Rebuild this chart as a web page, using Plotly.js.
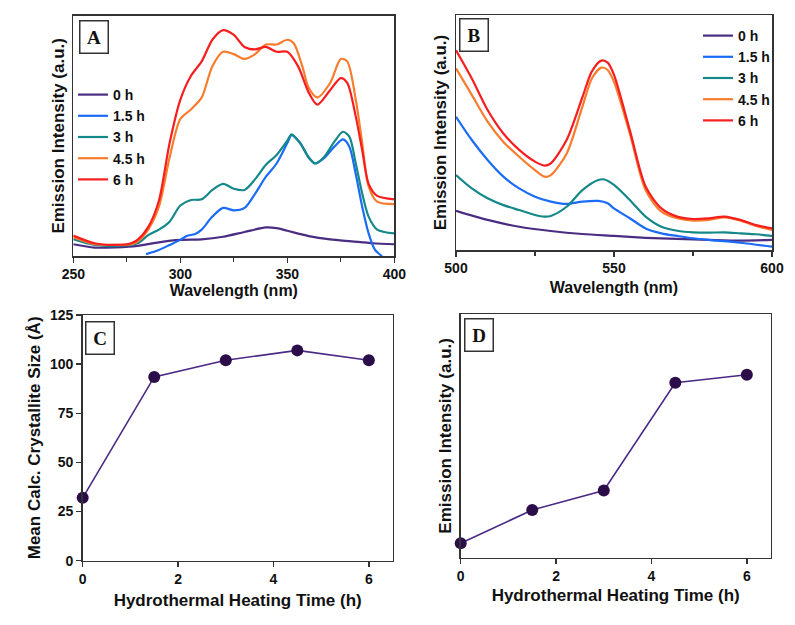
<!DOCTYPE html>
<html>
<head>
<meta charset="utf-8">
<script src="https://cdn.plot.ly/plotly-3.0.1.min.js"></script>
<style>html,body{margin:0;padding:0;background:#fff;}#chart{width:795px;height:625px;}</style>
</head>
<body>
<div id="chart"></div>
<script>
// ---------- DATA ----------
const seriesNames = ['0 h', '1.5 h', '3 h', '4.5 h', '6 h'];

// Panel A: spectra 250-400 nm (arbitrary units)
const A_wl_0h  = [250,260,270,280,290,300,310,320,330,340,345,350,360,370,380,390,400];
const A_int_0h = [4.9,3.5,3.6,4.2,5.7,6.7,6.9,8,10,11.9,11.6,10.5,8.3,6.9,6.1,5.3,4.9];

const A_wl_15h  = [284,290,295,300,303,307,310,315,320,325,330,335,340,345,350,352,356,360,363,367,372,376,379,382,385,388,391,394,396];
const A_int_15h = [0.8,2.5,4.6,6.7,8.3,9.2,11,16.4,20,19,20,26,33,38.5,47,50.3,47,41,38.5,40.6,45.5,48.5,45.5,34,20.5,9.4,2.5,0,-3];

const A_wl_3h  = [250,260,270,280,285,290,295,300,305,310,315,320,325,330,335,340,345,350,352,356,360,363,367,372,376,379,382,385,388,392,400];
const A_int_3h = [7,4.6,4.2,5.3,8.7,11,14.3,21,23.3,23.6,27.5,30,28,27.5,32,38,42,48,50.6,47,41,38.5,41,47.6,51.7,49.7,38.5,26,16.4,11,9.4];

const A_wl_45h  = [250,260,270,277,280,285,290,295,300,305,310,315,320,325,330,335,340,345,350,353,357,360,364,370,375,378,382,385,388,392,400];
const A_int_45h = [7.8,4.9,4.6,4.9,6,11,20.5,41,57,61,66,79,85,84,82,84,88,88,90,88.5,79,70,66,72,82,81,65,47,29,22.6,21.6];

const A_wl_6h  = [250,260,270,277,280,285,290,295,300,305,310,315,320,325,330,335,340,345,350,355,360,364,370,375,378,382,385,388,392,400];
const A_int_6h = [8.5,5.3,4.6,5.3,6.7,12,23,47,65,75,81,90,94,92,87,86,87,85,85,79,68,63,69,74,72,58,44,30,25,23.6];

// Panel B: spectra 500-600 nm (arbitrary units)
const B_wl_0h  = [500,510,520,530,540,550,560,570,580,590,600];
const B_int_0h = [16.7,12.8,9.9,8.1,6.8,6,5.2,4.7,4.3,4,4.3];

const B_wl_15h  = [500,505,510,515,520,525,530,535,540,545,548,550,555,560,565,570,575,580,590,600];
const B_int_15h = [56.7,46.8,38.3,31.2,26.2,22.7,20.6,19.6,20.6,20.9,19.9,17.7,13.5,9.2,7.1,6,5,4.3,3.1,1.4];

const B_wl_3h  = [500,505,510,515,520,525,528,530,535,540,545,547,550,555,560,565,570,575,580,585,590,595,600];
const B_int_3h = [31.9,26.2,22,19.1,17,14.9,14.2,14.5,18.4,25.5,29.8,30,27.7,21.3,14.2,9.9,8.2,7.5,7.4,7.5,7.1,6.7,6];

const B_wl_45h  = [500,505,510,515,520,525,528,530,535,540,543,546,548,550,555,560,565,570,575,580,585,590,595,600];
const B_int_45h = [77.3,66,54.6,46,39.7,34,31.2,31.9,41,61,73,77.6,76.6,71.6,49.6,25.5,16.3,13.5,12.5,12.8,13.9,12.5,10.2,8.5];

const B_wl_6h  = [500,505,510,515,520,525,528,530,535,540,543,546,548,550,555,560,565,570,575,580,585,590,595,600];
const B_int_6h = [85,73,59.6,49.6,42.6,37.6,35.9,36.9,46.8,65,76,80.6,79.7,74.5,51,27,17.7,14.2,13.2,13.5,14.2,12.8,10.6,9.2];

// Panels C & D
const heatingHours    = [0, 1.5, 3, 4.5, 6];
const crystalliteSize = [32, 93.5, 102, 107, 102];
const emissionVsTime  = [5.9, 19.6, 27.6, 71.8, 75.1];

// ---------- STYLE ----------
const palette = ['#4a2d82', '#1a6cf7', '#15888a', '#f97c2c', '#f61e1e'];
const FONT = 'Liberation Sans, Arial, Helvetica, sans-serif';

const A_x = [A_wl_0h, A_wl_15h, A_wl_3h, A_wl_45h, A_wl_6h];
const A_y = [A_int_0h, A_int_15h, A_int_3h, A_int_45h, A_int_6h];
const B_x = [B_wl_0h, B_wl_15h, B_wl_3h, B_wl_45h, B_wl_6h];
const B_y = [B_int_0h, B_int_15h, B_int_3h, B_int_45h, B_int_6h];

const traces = [];
seriesNames.forEach((name, i) => {
  traces.push({
    x: A_x[i], y: A_y[i], name: name, type: 'scatter', mode: 'lines',
    line: {color: palette[i], width: 2.2, shape: 'spline', smoothing: 0.8},
    xaxis: 'x', yaxis: 'y', legend: 'legend', hoverinfo: 'skip'
  });
});
seriesNames.forEach((name, i) => {
  traces.push({
    x: B_x[i], y: B_y[i], name: name, type: 'scatter', mode: 'lines',
    line: {color: palette[i], width: 2.2, shape: 'spline', smoothing: 0.8},
    xaxis: 'x2', yaxis: 'y2', legend: 'legend2', hoverinfo: 'skip'
  });
});
traces.push({
  x: heatingHours, y: crystalliteSize, type: 'scatter', mode: 'lines+markers',
  line: {color: '#4b2a85', width: 1.6},
  marker: {color: '#2b0d4a', size: 12},
  cliponaxis: false, showlegend: false, xaxis: 'x3', yaxis: 'y3'
});
traces.push({
  x: heatingHours, y: emissionVsTime, type: 'scatter', mode: 'lines+markers',
  line: {color: '#4b2a85', width: 1.6},
  marker: {color: '#2b0d4a', size: 12},
  cliponaxis: false, showlegend: false, xaxis: 'x4', yaxis: 'y4'
});

const baseAxis = {
  showline: true, mirror: true, linecolor: '#333', linewidth: 1.5,
  showgrid: false, zeroline: false,
  ticks: 'outside', ticklen: 5, tickwidth: 1.5, tickcolor: '#333',
  tickfont: {family: FONT, size: 14, color: '#111', weight: 'bold'}
};
function ax(extra) { return Object.assign({}, baseAxis, extra); }
function ttl(text, standoff, size) {
  return {text: text, standoff: standoff, font: {family: FONT, size: size || 17, color: '#111', weight: 'bold'}};
}

const W = 795, H = 625;
const px = v => v / W;
const py = v => 1 - v / H;

function letter(t, x, y) {
  return {
    text: t, xref: 'paper', yref: 'paper', x: px(x), y: py(y),
    xanchor: 'left', yanchor: 'top', showarrow: false,
    font: {family: 'Liberation Serif, Times New Roman, serif', size: 19, color: '#111', weight: 'bold'},
    bordercolor: '#333', borderwidth: 1.5, borderpad: 0, bgcolor: '#fff',
    width: 27, height: 31
  };
}

const layout = {
  width: W, height: H,
  margin: {l: 0, r: 0, t: 0, b: 0},
  paper_bgcolor: '#fff', plot_bgcolor: '#fff',
  font: {family: FONT, color: '#111'},
  showlegend: true,
  xaxis: ax({domain: [px(73.3), px(394.3)], range: [250, 400], dtick: 50, tick0: 250,
    minor: {ticks: 'outside', dtick: 25, ticklen: 4, tickwidth: 1.2, tickcolor: '#333'},
    anchor: 'y', title: ttl('Wavelength (nm)', 3, 16)}),
  yaxis: ax({domain: [py(256), py(15.7)], range: [0, 100], ticks: '', showticklabels: false,
    anchor: 'x', title: ttl('Emission Intensity (a.u.)', 3)}),
  xaxis2: ax({domain: [px(456), px(772)], range: [500, 600], dtick: 50, tick0: 500,
    minor: {ticks: 'outside', dtick: 25, ticklen: 4, tickwidth: 1.2, tickcolor: '#333'},
    anchor: 'y2', title: ttl('Wavelength (nm)', 6, 16)}),
  yaxis2: ax({domain: [py(250), py(15)], range: [0, 100], ticks: '', showticklabels: false,
    anchor: 'x2', title: ttl('Emission Intensity (a.u.)', 3)}),
  xaxis3: ax({domain: [px(82.7), px(392.7)], range: [0, 6.5], dtick: 2, tick0: 0,
    anchor: 'y3', title: ttl('Hydrothermal Heating Time (h)', 8)}),
  yaxis3: ax({domain: [py(560.7), py(315)], range: [0, 125], dtick: 25, tick0: 0,
    anchor: 'x3', title: ttl('Mean Calc. Crystallite Size (Å)', 5)}),
  xaxis4: ax({domain: [px(460.7), px(770.7)], range: [0, 6.5], dtick: 2, tick0: 0,
    anchor: 'y4', title: ttl('Hydrothermal Heating Time (h)', 6)}),
  yaxis4: ax({domain: [py(557.7), py(314)], range: [0, 100], ticks: '', showticklabels: false,
    anchor: 'x4', title: ttl('Emission Intensity (a.u.)', 3)}),
  legend: {x: px(73), y: py(79), xanchor: 'left', yanchor: 'top', bgcolor: 'rgba(0,0,0,0)',
    borderwidth: 0, itemwidth: 30, tracegroupgap: 0,
    font: {family: FONT, size: 14, color: '#111', weight: 'bold'}},
  legend2: {x: px(698), y: py(20), xanchor: 'left', yanchor: 'top', bgcolor: 'rgba(0,0,0,0)',
    borderwidth: 0, itemwidth: 30, tracegroupgap: 0,
    font: {family: FONT, size: 14, color: '#111', weight: 'bold'}},
  annotations: [
    letter('A', 78.7, 20),
    letter('B', 459, 18),
    letter('C', 85, 321),
    letter('D', 464, 318)
  ]
};

Plotly.newPlot('chart', traces, layout, {displayModeBar: false, staticPlot: true});
</script>
</body>
</html>
